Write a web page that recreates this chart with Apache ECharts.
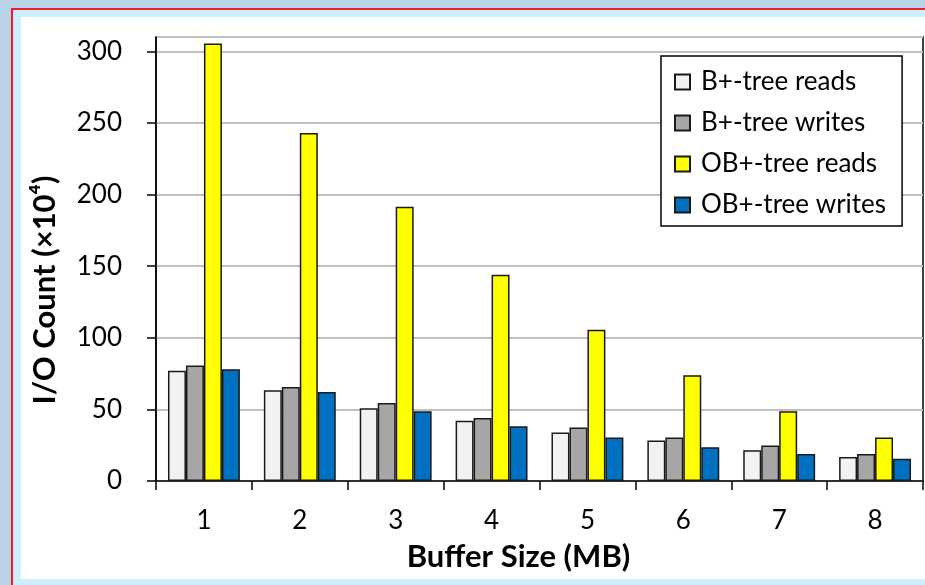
<!DOCTYPE html>
<html>
<head>
<meta charset="utf-8">
<script src="https://cdn.jsdelivr.net/npm/echarts@6/dist/echarts.min.js"></script>
<style>
  html, body { margin: 0; padding: 0; width: 925px; height: 585px; overflow: hidden; background: #b9d3e6; }
  #frame { position: absolute; left: 11px; top: 8px; width: 914px; height: 577px; border-left: 2px solid #ee1c24; border-top: 2px solid #ee1c24; box-sizing: border-box; background: #cdeefc; }
  #white { position: absolute; left: 21px; top: 17px; width: 904px; height: 562px; background: #ffffff; }
  #chart { position: absolute; left: 0; top: 0; width: 925px; height: 585px; }
</style>
</head>
<body>
<div id="frame"></div>
<div id="white"></div>
<div id="chart"></div>
<script>
const categories = ['1', '2', '3', '4', '5', '6', '7', '8'];
const seriesNames = ['B+-tree reads', 'B+-tree writes', 'OB+-tree reads', 'OB+-tree writes'];
const bTreeReads = [77, 63.4, 50.8, 42, 33.8, 28.2, 21.5, 16.8];
const bTreeWrites = [80.6, 65.7, 54.5, 44, 37.3, 30.3, 24.7, 18.9];
const obTreeReads = [305.5, 243, 191.5, 144, 105.6, 73.9, 48.7, 30.3];
const obTreeWrites = [78, 62.2, 48.7, 38.2, 30.3, 23.6, 18.9, 15.6];
const yTicks = [0, 50, 100, 150, 200, 250, 300];

const colors = ['#f2f2f2', '#a6a6a6', '#ffff00', '#0070c0'];
const values = [bTreeReads, bTreeWrites, obTreeReads, obTreeWrites];
const FONT = 'Lato, "DejaVu Sans", sans-serif';

const chart = echarts.init(document.getElementById('chart'), null, { renderer: 'canvas' });
chart.setOption({
  animation: false,
  backgroundColor: 'transparent',
  textStyle: { fontFamily: FONT, color: '#000' },
  grid: { left: 156, right: 2, top: 37, bottom: 104, show: true, borderColor: '#000', borderWidth: 1.5, containLabel: false },
  legend: {
    orient: 'vertical',
    left: 661, top: 56,
    backgroundColor: '#fff',
    borderColor: '#000',
    borderWidth: 1.5,
    padding: [13, 16, 8, 13],
    itemWidth: 15, itemHeight: 15,
    itemGap: 15,
    icon: 'rect',
    textStyle: { fontFamily: FONT, fontSize: 26, color: '#000', padding: [0, 0, 0, 6], lineHeight: 26 },
    data: seriesNames
  },
  xAxis: {
    type: 'category',
    data: categories,
    name: 'Buffer Size (MB)',
    nameLocation: 'middle',
    nameGap: 60,
    nameMoveOverlap: false,
    nameTextStyle: { fontFamily: FONT, fontSize: 31, fontWeight: 'bold', color: '#000', padding: [0, 42, 0, 0] },
    axisLine: { lineStyle: { color: '#000', width: 1.5 } },
    axisTick: { show: true, length: 9, lineStyle: { color: '#000', width: 1.5 } },
    axisLabel: { fontFamily: FONT, fontSize: 26, color: '#000', margin: 27 }
  },
  yAxis: {
    type: 'value',
    min: 0, max: 310, interval: 50,
    name: 'I/O Count (×10⁴)',
    nameLocation: 'middle',
    nameGap: 96,
    nameMoveOverlap: false,
    nameTextStyle: { fontFamily: FONT, fontSize: 31, fontWeight: 'bold', color: '#000', padding: [0, 62, 0, 0] },
    axisLine: { show: true, lineStyle: { color: '#000', width: 1.5 } },
    axisTick: { show: true, length: 9, lineStyle: { color: '#000', width: 1.5 } },
    axisLabel: { fontFamily: FONT, fontSize: 26, color: '#000', margin: 34, showMaxLabel: false,
      formatter: v => (yTicks.indexOf(v) >= 0 ? String(v) : '') },
    splitLine: { show: true, lineStyle: { color: '#c0c0c0', width: 2 } }
  },
  series: seriesNames.map((name, i) => ({
    name,
    type: 'bar',
    data: values[i],
    barGap: '0%',
    barCategoryGap: '25%',
    itemStyle: { color: colors[i], borderColor: '#1a1a1a', borderWidth: 1.5 }
  }))
});
</script>
</body>
</html>
